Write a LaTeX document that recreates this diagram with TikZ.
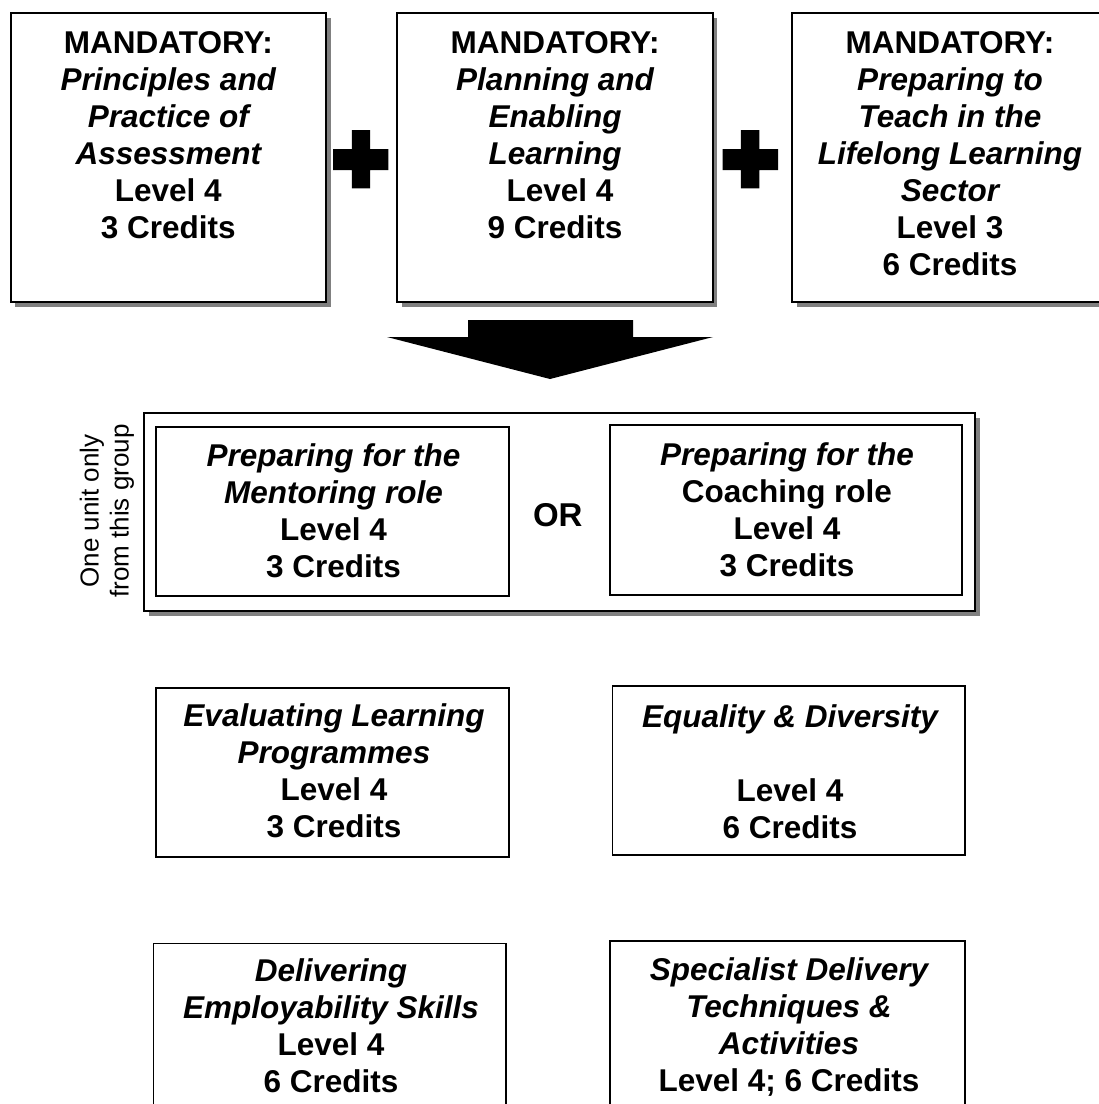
\documentclass[tikz,border=0pt]{standalone}
\usepackage{fontspec}
\setmainfont{Liberation Sans}
\usetikzlibrary{shadows}
\newcommand{\firststrut}{\rule{0pt}{25pt}}
\begin{document}
\begin{tikzpicture}[x=1pt,y=-1pt,
  unitbox/.style={draw=black, fill=white, rectangle, inner sep=0pt},
  topbox/.style={unitbox, line width=2pt, minimum width=315.5pt, minimum height=289pt,
     drop shadow={shadow xshift=4.5pt, shadow yshift=-5pt, fill=black!50, opacity=1}},
  groupbox/.style={unitbox, line width=2pt,
     drop shadow={shadow xshift=4.5pt, shadow yshift=-5pt, fill=black!50, opacity=1}},
  innerbox/.style={unitbox, line width=1.6pt},
  lowbox/.style={unitbox, line width=1.6pt},
  txt/.style={inner sep=0pt, align=center, anchor=north,
     font=\fontsize{31.5}{37}\selectfont\bfseries},
  sidetxt/.style={inner sep=0pt, align=center, rotate=90,
     font=\fontsize{26}{30}\selectfont},
  ortxt/.style={inner sep=0pt, font=\fontsize{33}{38}\selectfont\bfseries},
  solid shape/.style={fill=black, draw=none}
]
\useasboundingbox (0,0) rectangle (1099,1104);

% ---- top mandatory boxes ----
\node[topbox] (b1) at (168.35,157.2) {};
\node[topbox] (b2) at (555.1,157.2) {};
\node[topbox] (b3) at (950,157.2) {};

\node[txt] (t1) at (168.35,28.3) {\firststrut MANDATORY:\\{\itshape Principles and}\\{\itshape Practice of}\\{\itshape Assessment}\\Level 4\\3 Credits};
\node[txt] (t2) at (555.1,28.3) {\firststrut MANDATORY:\\{\itshape Planning and}\\{\itshape Enabling}\\{\itshape Learning}\\\hspace*{10pt}Level 4\\9 Credits};
\node[txt] (t3) at (950,28.3) {\firststrut MANDATORY:\\{\itshape Preparing to}\\{\itshape Teach in the}\\{\itshape Lifelong Learning}\\{\itshape Sector}\\Level 3\\6 Credits};

% ---- plus signs ----
\fill[solid shape] (351.8,130)--(370,130)--(370,149)--(388.3,149)--(388.3,170)--(370,170)--(370,188.3)--(351.8,188.3)--(351.8,170)--(333.2,170)--(333.2,149)--(351.8,149)--cycle;
\fill[solid shape] (740.8,130)--(759.4,130)--(759.4,149)--(778,149)--(778,170)--(759.4,170)--(759.4,188.3)--(740.8,188.3)--(740.8,170)--(722.6,170)--(722.6,149)--(740.8,149)--cycle;

% ---- big down arrow ----
\fill[solid shape] (468,320)--(633,320)--(633,337)--(713,337)--(550,379)--(387,337)--(468,337)--cycle;

% ---- group box ----
\node[groupbox, minimum width=830.7pt, minimum height=197.4pt] (grp) at (559.65,512) {};
\node[innerbox, minimum width=353pt, minimum height=169.3pt] (mbox) at (332.5,511.35) {};
\node[innerbox, minimum width=352.4pt, minimum height=170pt] (cbox) at (786,510) {};
\node[txt] (mt) at (333.5,441.7) {\firststrut{\itshape Preparing for the}\\{\itshape Mentoring role}\\Level 4\\3 Credits};
\node[txt] (ct) at (787,440) {\firststrut{\itshape Preparing for the}\\Coaching role\\Level 4\\3 Credits};
\node[ortxt] (or) at (557.8,515) {OR};
\node[sidetxt] (side) at (107,511) {One unit only\\from this group};

% ---- optional units ----
\node[lowbox, minimum width=353pt, minimum height=169.3pt] (ev) at (332.5,772.35) {};
\node[lowbox, minimum width=352.7pt, minimum height=169.3pt] (eq) at (788.65,770.35) {};
\node[lowbox, minimum width=352.7pt, minimum height=169pt] (de) at (329.65,1027.8) {};
\node[lowbox, minimum width=355pt, minimum height=169pt] (sp) at (787.5,1025.5) {};

\node[txt] (evt) at (334,701.7) {\firststrut{\itshape Evaluating Learning}\\{\itshape Programmes}\\Level 4\\3 Credits};
\node[txt] (eqt) at (790,702) {\firststrut{\itshape Equality \& Diversity}\\\mbox{}\\Level 4\\6 Credits};
\node[txt] (det) at (331,956.7) {\firststrut{\itshape Delivering}\\{\itshape Employability Skills}\\Level 4\\6 Credits};
\node[txt] (spt) at (789,955) {\firststrut{\itshape Specialist Delivery}\\{\itshape Techniques \&}\\{\itshape Activities}\\Level 4; 6 Credits};
\end{tikzpicture}
\end{document}
